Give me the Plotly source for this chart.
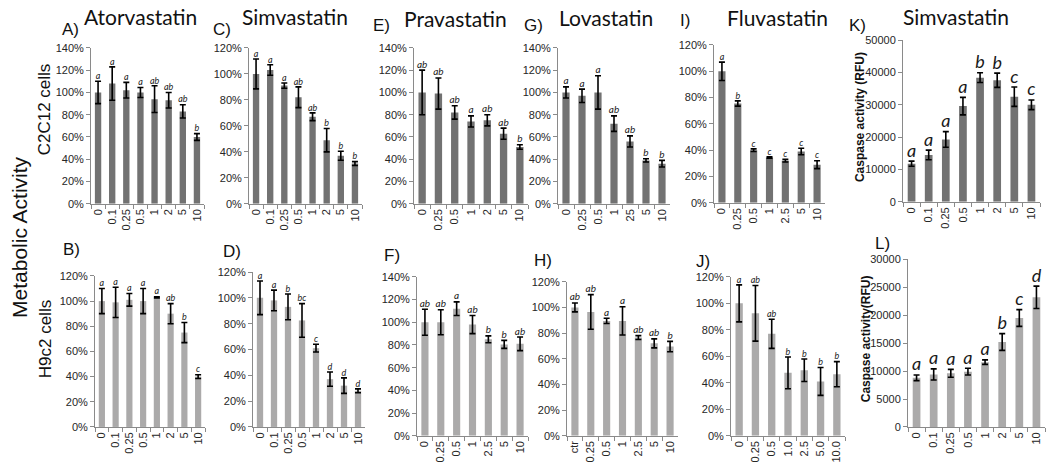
import plotly.graph_objects as go

# ---------------- data ----------------
conc8 = ["0", "0.1", "0.25", "0.5", "1", "2", "5", "10"]
conc_E = ["0", "0.25", "0.5", "1", "2", "5", "10"]
conc_G = ["0", "0.25", "0.5", "1", "25", "5", "10"]
conc_F = ["0", "0.25", "0.5", "1", "2.5", "5", "10"]
conc_H = ["ctr", "0.25", "0.5", "1", "2.5", "5", "10"]
conc_I = ["0", "0.25", "0.5", "1", "2.5", "5", "10"]
conc_J = ["0", "0.25", "0.5", "1.0", "2.5", "5.0", "10.0"]

# A) Atorvastatin, C2C12
vals_A = [100, 108, 102, 100, 94, 93, 83, 60]
err_A = [10, 15, 7, 4.5, 12, 7, 6, 3]
let_A = ["a", "a", "a", "a", "ab", "ab", "ab", "b"]
# C) Simvastatin, C2C12
vals_C = [100, 103, 91, 82, 67, 49, 37, 31]
err_C = [11.5, 4, 2, 8, 3, 9, 3.5, 1.5]
let_C = ["a", "a", "a", "ab", "ab", "b", "b", "b"]
# E) Pravastatin, C2C12
vals_E = [100, 99, 82, 74, 75, 63, 51]
err_E = [20, 14, 6, 5, 5, 5, 2]
let_E = ["ab", "ab", "ab", "a", "ab", "ab", "b"]
# G) Lovastatin, C2C12
vals_G = [100, 97, 100, 72, 56, 39, 36]
err_G = [5, 6, 15, 7, 5, 1.5, 3]
let_G = ["a", "a", "a", "ab", "ab", "b", "b"]
# I) Fluvastatin, C2C12
vals_I = [100, 75.5, 40, 34.5, 32, 39, 29]
err_I = [7, 2, 1, 0.5, 1, 2.5, 3]
let_I = ["a", "b", "c", "c", "c", "c", "c"]
# K) Simvastatin caspase, C2C12
vals_K = [11800, 14500, 19300, 29600, 38400, 37600, 32500, 30000]
err_K = [800, 1500, 2400, 2700, 1500, 2200, 3000, 1500]
let_K = ["a", "a", "a", "a", "b", "b", "c", "c"]
# B) Atorvastatin, H9c2
vals_B = [100, 99, 101, 100, 103, 90, 75, 40]
err_B = [10, 12, 5, 10, 0.5, 8, 8, 1.5]
let_B = ["a", "a", "a", "a", "a", "ab", "b", "c"]
# D) Simvastatin, H9c2
vals_D = [100, 98, 93, 82.5, 61, 37, 32, 28]
err_D = [13, 8, 10, 13, 3, 5.5, 6, 1.5]
let_D = ["a", "a", "b", "bc", "c", "d", "d", "d"]
# F) Pravastatin, H9c2
vals_F = [100, 100, 112, 98, 85, 80.5, 81]
err_F = [11.5, 11, 6, 8, 3, 3.5, 6]
let_F = ["ab", "ab", "a", "ab", "b", "b", "ab"]
# H) Lovastatin, H9c2
vals_H = [100, 96.5, 89.5, 89.5, 76.5, 72, 69.5]
err_H = [3.5, 13.5, 2, 11, 1.5, 3.5, 4]
let_H = ["ab", "ab", "a", "a", "ab", "ab", "b"]
# J) Fluvastatin, H9c2
vals_J = [100, 92.5, 77, 47.5, 49.5, 41, 46.5]
err_J = [14, 21, 11, 12, 8.5, 10.5, 9.5]
let_J = ["a", "ab", "ab", "b", "b", "b", "b"]
# L) Simvastatin caspase, H9c2
vals_L = [8800, 9400, 9600, 9900, 11600, 15200, 19500, 23200]
err_L = [500, 1000, 700, 600, 400, 1500, 1500, 2000]
let_L = ["a", "a", "a", "a", "a", "b", "c", "d"]

pct140 = [0, 20, 40, 60, 80, 100, 120, 140]
pct120 = [0, 20, 40, 60, 80, 100, 120]
rfu50 = [0, 10000, 20000, 30000, 40000, 50000]
rfu30 = [0, 5000, 10000, 15000, 20000, 25000, 30000]

DARK = "#727272"
LIGHT = "#abaaaa"
W, H = 1050, 469

# (cats, vals, errs, letters, x px range, y px (bottom, top), ticks, percent, color, letter size)
panels = [
    (conc8, vals_A, err_A, let_A, (91, 204), (203, 43), pct140, True, DARK, 9),
    (conc8, vals_C, err_C, let_C, (249, 362), (203, 43), pct120, True, DARK, 9),
    (conc_E, vals_E, err_E, let_E, (414, 528), (203, 43), pct140, True, DARK, 10),
    (conc_G, vals_G, err_G, let_G, (558, 670), (203, 43), pct140, True, DARK, 10),
    (conc_I, vals_I, err_I, let_I, (714, 825), (202, 40), pct120, True, DARK, 9),
    (conc8, vals_K, err_K, let_K, (903, 1040), (201, 35), rfu50, False, DARK, 18),
    (conc8, vals_B, err_B, let_B, (95, 205), (432, 277), pct120, True, LIGHT, 9),
    (conc8, vals_D, err_D, let_D, (253, 365), (432, 273), pct120, True, LIGHT, 9),
    (conc_F, vals_F, err_F, let_F, (417, 528), (441, 278), pct140, True, LIGHT, 10),
    (conc_H, vals_H, err_H, let_H, (567, 678), (441, 283), pct120, True, LIGHT, 10),
    (conc_J, vals_J, err_J, let_J, (731, 845), (441, 278), pct120, True, LIGHT, 9),
    (conc8, vals_L, err_L, let_L, (908, 1045), (432, 260), rfu30, False, LIGHT, 18),
]

fig = go.Figure()
layout = {}
TICKFONT = dict(family="Liberation Sans, Arial, sans-serif", size=11, color="#262626")
AXCOL = "#8a8a8a"

for i, (cats, vals, errs, lets, xr, yr, ticks, pct, col, lsize) in enumerate(panels):
    n = "" if i == 0 else str(i + 1)
    xa, ya = "x" + n, "y" + n
    fig.add_trace(go.Bar(
        x=cats, y=vals, xaxis=xa, yaxis=ya, marker_color=col, marker_line_width=0,
        error_y=dict(type="data", array=errs, visible=True, color="black",
                     thickness=1.6, width=3),
        showlegend=False, hoverinfo="skip"))
    tops = [v + e for v, e in zip(vals, errs)]
    fig.add_trace(go.Scatter(
        x=cats, y=tops, xaxis=xa, yaxis=ya, mode="text", text=lets,
        textposition="top center", cliponaxis=False,
        textfont=dict(family="Lato, Open Sans, sans-serif", size=lsize,
                      color="#1a1a1a", style="italic"),
        showlegend=False, hoverinfo="skip"))
    labels = [("%d%%" % t) if pct else ("%d" % t) for t in ticks]
    layout["xaxis" + n] = dict(
        domain=[xr[0] / W, xr[1] / W], anchor=ya, type="category",
        showline=True, linecolor=AXCOL, linewidth=1, ticks="outside",
        tickson="boundaries", ticklen=4, tickcolor=AXCOL, tickangle=-90,
        tickfont=TICKFONT, showgrid=False, zeroline=False, fixedrange=True)
    layout["yaxis" + n] = dict(
        domain=[1 - yr[0] / H, 1 - yr[1] / H], anchor=xa,
        range=[0, ticks[-1]], tickmode="array", tickvals=ticks, ticktext=labels,
        showline=True, linecolor=AXCOL, linewidth=1, ticks="outside",
        ticklen=4, tickcolor=AXCOL, tickfont=TICKFONT, showgrid=False,
        zeroline=False, fixedrange=True)

ann = []


def txt(t, x, y, size, family="Liberation Sans, Arial, sans-serif", angle=0,
        bold=False, color="#111111"):
    ann.append(dict(text=("<b>%s</b>" % t) if bold else t, x=x / W, y=1 - y / H,
                    xref="paper", yref="paper", showarrow=False, textangle=angle,
                    xanchor="center", yanchor="middle",
                    font=dict(family=family, size=size, color=color)))


TITLEF = "Lato, Open Sans, sans-serif"
txt("Atorvastatin", 140, 11, 21, TITLEF)
txt("Simvastatin", 295, 11, 21, TITLEF)
txt("Pravastatin", 455, 13, 21, TITLEF)
txt("Lovastatin", 606, 12, 21, TITLEF)
txt("Fluvastatin", 777, 12, 21, TITLEF)
txt("Simvastatin", 956, 11, 21, TITLEF)

for lab, x, y in [("A)", 70, 24), ("C)", 222, 24), ("E)", 381, 20), ("G)", 533, 20),
                  ("I)", 685, 15), ("K)", 857, 20), ("B)", 71, 250), ("D)", 232, 252),
                  ("F)", 392, 256), ("H)", 543, 261), ("J)", 703, 262), ("L)", 882, 244)]:
    txt(lab, x, y, 17)

txt("Metabolic Activity", 20, 237, 21, angle=-90)
txt("C2C12 cells", 44, 106, 17, angle=-90)
txt("H9c2 cells", 45, 342, 17, angle=-90)
txt("Caspase activity (RFU)", 860, 114, 12, angle=-90, bold=True)
txt("Caspase activity(RFU)", 866, 342, 12, angle=-90, bold=True)

layout["annotations"] = ann
fig.update_layout(**layout)
fig.update_layout(width=W, height=H, margin=dict(l=0, r=0, t=0, b=0),
                  paper_bgcolor="white", plot_bgcolor="white", bargap=0.55,
                  autosize=False)

fig.write_html("out.html", config={"displayModeBar": False},
               post_script="document.body.style.margin='0';document.body.style.overflow='hidden';")
